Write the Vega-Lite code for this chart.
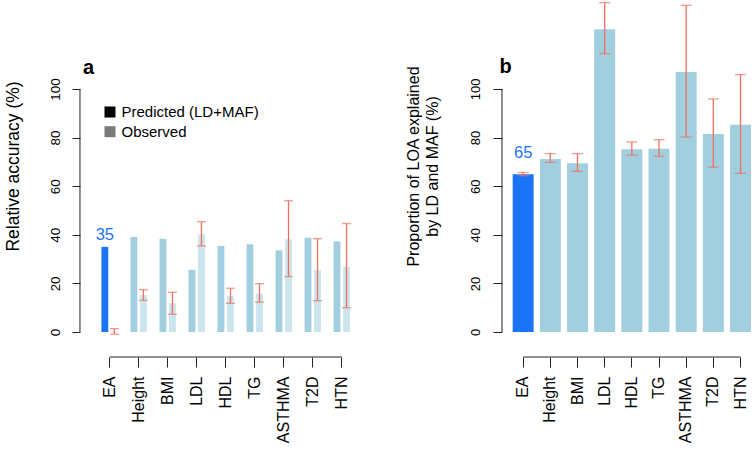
{
  "$schema": "https://vega.github.io/schema/vega-lite/v6.json",
  "padding": {"left": 4, "top": 0, "right": 0, "bottom": 0},
  "spacing": 50,
  "config": {
    "font": "Liberation Sans",
    "view": {"stroke": null},
    "axis": {"grid": false, "domainColor": "#222222", "tickColor": "#222222", "labelColor": "#000000", "titleColor": "#000000", "titleFontWeight": "normal", "labelFont": "Liberation Sans", "titleFont": "Liberation Sans"}
  },
  "hconcat": [
    {
      "width": 275,
      "height": 332,
      "title": {"text": "a", "anchor": "start", "frame": "group", "fontSize": 20, "fontWeight": "bold", "baseline": "alphabetic", "offset": -94, "dx": 3, "color": "#000000"},
      "data": {"values": [
        {"trait": "EA", "type": "Predicted (LD+MAF)", "value": 35.0},
        {"trait": "EA", "type": "Observed", "value": 0.3, "lo": -0.9, "hi": 1.4},
        {"trait": "Height", "type": "Predicted (LD+MAF)", "value": 39.1},
        {"trait": "Height", "type": "Observed", "value": 15.2, "lo": 13.0, "hi": 17.4},
        {"trait": "BMI", "type": "Predicted (LD+MAF)", "value": 38.3},
        {"trait": "BMI", "type": "Observed", "value": 11.8, "lo": 7.3, "hi": 16.3},
        {"trait": "LDL", "type": "Predicted (LD+MAF)", "value": 25.5},
        {"trait": "LDL", "type": "Observed", "value": 40.2, "lo": 35.4, "hi": 45.4},
        {"trait": "HDL", "type": "Predicted (LD+MAF)", "value": 35.4},
        {"trait": "HDL", "type": "Observed", "value": 14.8, "lo": 11.8, "hi": 18.0},
        {"trait": "TG", "type": "Predicted (LD+MAF)", "value": 36.1},
        {"trait": "TG", "type": "Observed", "value": 15.8, "lo": 12.3, "hi": 19.9},
        {"trait": "ASTHMA", "type": "Predicted (LD+MAF)", "value": 33.6},
        {"trait": "ASTHMA", "type": "Observed", "value": 38.1, "lo": 22.8, "hi": 54.0},
        {"trait": "T2D", "type": "Predicted (LD+MAF)", "value": 38.8},
        {"trait": "T2D", "type": "Observed", "value": 25.5, "lo": 12.9, "hi": 38.4},
        {"trait": "HTN", "type": "Predicted (LD+MAF)", "value": 37.3},
        {"trait": "HTN", "type": "Observed", "value": 26.9, "lo": 10.0, "hi": 44.6}
      ]},
      "layer": [
        {
          "mark": {"type": "bar"},
          "encoding": {
            "x": {"field": "trait", "type": "nominal", "sort": ["EA", "Height", "BMI", "LDL", "HDL", "TG", "ASTHMA", "T2D", "HTN"],
                  "scale": {"paddingInner": 0.435, "paddingOuter": 0.456, "align": 0.81},
                  "axis": {"title": null, "labelAngle": -90, "labelFontSize": 16, "labelPadding": 9, "tickSize": 10, "offset": 25, "domain": false}},
            "xOffset": {"field": "type", "type": "nominal", "sort": ["Predicted (LD+MAF)", "Observed"], "scale": {"paddingInner": 0.283, "paddingOuter": 0}},
            "y": {"field": "value", "type": "quantitative", "scale": {"domain": [0, 136.6], "nice": false, "zero": false},
                  "axis": {"title": "Relative accuracy (%)", "values": [0, 20, 40, 60, 80, 100], "labelAngle": -90, "labelFontSize": 13.4, "labelPadding": 10, "tickSize": 8, "domain": false, "titleFontSize": 17.5, "titlePadding": 26}},
            "fill": {
              "field": "type", "type": "nominal",
              "scale": {"domain": ["Predicted (LD+MAF)", "Observed"], "range": ["#000000", "#7a7a7a"]},
              "legend": {"orient": "none", "legendX": 22.5, "legendY": 104.5, "title": null, "symbolType": "square", "symbolSize": 121, "labelFontSize": 15, "labelOffset": 4, "rowPadding": 3.7, "symbolStrokeWidth": 0, "padding": 0, "labelColor": "#000000"},
              "condition": [
                {"test": "datum.trait === 'EA' && datum.type === 'Predicted (LD+MAF)'", "value": "#1b74f7"},
                {"test": "datum.type === 'Predicted (LD+MAF)'", "value": "#a2cfdf"},
                {"test": "datum.type === 'Observed'", "value": "#cbe5ee"}
              ]
            }
          }
        },
        {
          "transform": [{"filter": "isValid(datum.hi)"}],
          "mark": {"type": "rule", "color": "#f0705d", "strokeWidth": 1.3},
          "encoding": {
            "x": {"field": "trait", "type": "nominal", "sort": ["EA", "Height", "BMI", "LDL", "HDL", "TG", "ASTHMA", "T2D", "HTN"]},
            "xOffset": {"field": "type", "type": "nominal", "sort": ["Predicted (LD+MAF)", "Observed"]},
            "y": {"field": "lo", "type": "quantitative"},
            "y2": {"field": "hi"}
          }
        },
        {
          "transform": [{"filter": "isValid(datum.hi)"}],
          "mark": {"type": "tick", "orient": "horizontal", "color": "#f0705d", "size": 9, "thickness": 1.3},
          "encoding": {
            "x": {"field": "trait", "type": "nominal", "sort": ["EA", "Height", "BMI", "LDL", "HDL", "TG", "ASTHMA", "T2D", "HTN"]},
            "xOffset": {"field": "type", "type": "nominal", "sort": ["Predicted (LD+MAF)", "Observed"]},
            "y": {"field": "lo", "type": "quantitative"}
          }
        },
        {
          "transform": [{"filter": "isValid(datum.hi)"}],
          "mark": {"type": "tick", "orient": "horizontal", "color": "#f0705d", "size": 9, "thickness": 1.3},
          "encoding": {
            "x": {"field": "trait", "type": "nominal", "sort": ["EA", "Height", "BMI", "LDL", "HDL", "TG", "ASTHMA", "T2D", "HTN"]},
            "xOffset": {"field": "type", "type": "nominal", "sort": ["Predicted (LD+MAF)", "Observed"]},
            "y": {"field": "hi", "type": "quantitative"}
          }
        },
        {
          "transform": [{"filter": "datum.trait === 'EA' && datum.type === 'Predicted (LD+MAF)'"}],
          "mark": {"type": "text", "baseline": "alphabetic", "align": "center", "dy": -6.7, "fontSize": 16.5, "color": "#1b74f7"},
          "encoding": {
            "x": {"field": "trait", "type": "nominal", "sort": ["EA", "Height", "BMI", "LDL", "HDL", "TG", "ASTHMA", "T2D", "HTN"]},
            "xOffset": {"field": "type", "type": "nominal", "sort": ["Predicted (LD+MAF)", "Observed"]},
            "y": {"field": "value", "type": "quantitative"},
            "text": {"field": "value", "type": "quantitative", "format": ".0f"}
          }
        },
        {
          "transform": [{"filter": "datum.trait === 'EA' && datum.type === 'Predicted (LD+MAF)'"}],
          "mark": {"type": "rule", "color": "#222222", "strokeWidth": 1},
          "encoding": {
            "x": {"field": "trait", "type": "nominal", "sort": ["EA", "Height", "BMI", "LDL", "HDL", "TG", "ASTHMA", "T2D", "HTN"], "bandPosition": -1.31},
            "y": {"datum": 0},
            "y2": {"datum": 100}
          }
        },
        {
          "transform": [{"filter": "datum.trait === 'EA' && datum.type === 'Predicted (LD+MAF)'"}],
          "mark": {"type": "rule", "color": "#222222", "strokeWidth": 1},
          "encoding": {
            "x": {"field": "trait", "type": "nominal", "sort": ["EA", "Height", "BMI", "LDL", "HDL", "TG", "ASTHMA", "T2D", "HTN"]},
            "x2": {"datum": "HTN"},
            "y": {"datum": -10.29}
          }
        }
      ]
    },
    {
      "width": 252,
      "height": 332,
      "title": {"text": "b", "anchor": "start", "frame": "group", "fontSize": 20, "fontWeight": "bold", "baseline": "alphabetic", "offset": -93, "dx": -2.4, "color": "#000000"},
      "data": {"values": [
        {"trait": "EA", "value": 64.9, "lo": 64.3, "hi": 65.6},
        {"trait": "Height", "value": 71.2, "lo": 69.8, "hi": 73.4},
        {"trait": "BMI", "value": 69.4, "lo": 66.1, "hi": 73.4},
        {"trait": "LDL", "value": 124.6, "lo": 114.5, "hi": 135.5},
        {"trait": "HDL", "value": 75.2, "lo": 72.8, "hi": 78.2},
        {"trait": "TG", "value": 75.4, "lo": 72.3, "hi": 79.1},
        {"trait": "ASTHMA", "value": 107.0, "lo": 80.2, "hi": 134.4},
        {"trait": "T2D", "value": 81.5, "lo": 67.8, "hi": 95.9},
        {"trait": "HTN", "value": 85.3, "lo": 65.3, "hi": 105.9}
      ]},
      "layer": [
        {
          "mark": {"type": "bar"},
          "encoding": {
            "x": {"field": "trait", "type": "nominal", "sort": ["EA", "Height", "BMI", "LDL", "HDL", "TG", "ASTHMA", "T2D", "HTN"],
                  "scale": {"paddingInner": 0.228, "paddingOuter": 0.252, "align": 0.78},
                  "axis": {"title": null, "labelAngle": -90, "labelFontSize": 16, "labelPadding": 9, "tickSize": 10, "offset": 25, "domain": false}},
            "y": {"field": "value", "type": "quantitative", "scale": {"domain": [0, 136.6], "nice": false, "zero": false},
                  "axis": {"title": ["Proportion of LOA explained", "by LD and MAF (%)"], "values": [0, 20, 40, 60, 80, 100], "labelAngle": -90, "labelFontSize": 13, "labelPadding": 11, "tickSize": 9, "domain": false, "titleFontSize": 16, "titleLineHeight": 19, "titlePadding": 29}},
            "fill": {"condition": {"test": "datum.trait === 'EA'", "value": "#1b74f7"}, "value": "#a2cfdf"}
          }
        },
        {
          "mark": {"type": "rule", "color": "#f0705d", "strokeWidth": 1.3},
          "encoding": {
            "x": {"field": "trait", "type": "nominal", "sort": ["EA", "Height", "BMI", "LDL", "HDL", "TG", "ASTHMA", "T2D", "HTN"]},
            "y": {"field": "lo", "type": "quantitative"},
            "y2": {"field": "hi"}
          }
        },
        {
          "mark": {"type": "tick", "orient": "horizontal", "color": "#f0705d", "size": 11, "thickness": 1.3},
          "encoding": {
            "x": {"field": "trait", "type": "nominal", "sort": ["EA", "Height", "BMI", "LDL", "HDL", "TG", "ASTHMA", "T2D", "HTN"]},
            "y": {"field": "lo", "type": "quantitative"}
          }
        },
        {
          "mark": {"type": "tick", "orient": "horizontal", "color": "#f0705d", "size": 11, "thickness": 1.3},
          "encoding": {
            "x": {"field": "trait", "type": "nominal", "sort": ["EA", "Height", "BMI", "LDL", "HDL", "TG", "ASTHMA", "T2D", "HTN"]},
            "y": {"field": "hi", "type": "quantitative"}
          }
        },
        {
          "transform": [{"filter": "datum.trait === 'EA'"}],
          "mark": {"type": "text", "baseline": "alphabetic", "align": "center", "dy": -16, "fontSize": 16.5, "color": "#1b74f7"},
          "encoding": {
            "x": {"field": "trait", "type": "nominal", "sort": ["EA", "Height", "BMI", "LDL", "HDL", "TG", "ASTHMA", "T2D", "HTN"]},
            "y": {"field": "value", "type": "quantitative"},
            "text": {"field": "value", "type": "quantitative", "format": ".0f"}
          }
        },
        {
          "transform": [{"filter": "datum.trait === 'EA'"}],
          "mark": {"type": "rule", "color": "#222222", "strokeWidth": 1},
          "encoding": {
            "x": {"field": "trait", "type": "nominal", "sort": ["EA", "Height", "BMI", "LDL", "HDL", "TG", "ASTHMA", "T2D", "HTN"], "bandPosition": -0.51},
            "y": {"datum": 0},
            "y2": {"datum": 100}
          }
        },
        {
          "transform": [{"filter": "datum.trait === 'EA'"}],
          "mark": {"type": "rule", "color": "#222222", "strokeWidth": 1},
          "encoding": {
            "x": {"field": "trait", "type": "nominal", "sort": ["EA", "Height", "BMI", "LDL", "HDL", "TG", "ASTHMA", "T2D", "HTN"]},
            "x2": {"datum": "HTN"},
            "y": {"datum": -10.29}
          }
        }
      ]
    }
  ]
}
